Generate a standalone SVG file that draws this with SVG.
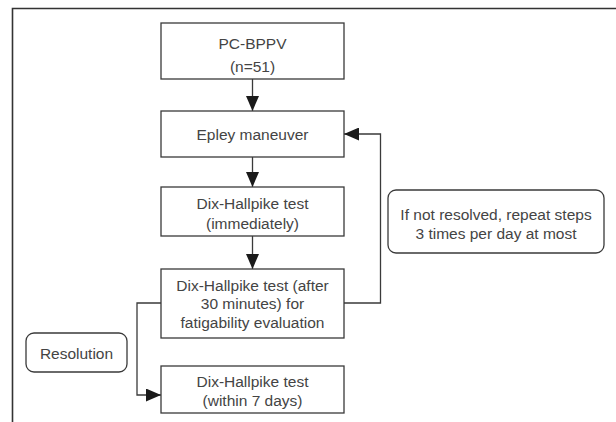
<svg xmlns="http://www.w3.org/2000/svg" width="616" height="422" viewBox="0 0 616 422">
<defs>
<style>
.box{fill:#fff;stroke:#3a3a3a;stroke-width:1.3}
.rbox{fill:#fff;stroke:#3a3a3a;stroke-width:1.3}
.t{font-family:"Liberation Sans",Arial,sans-serif;font-size:15.5px;fill:#444;text-anchor:middle}
.c{fill:none;stroke:#3a3a3a;stroke-width:1.3}
.frame{fill:none;stroke:#333;stroke-width:1.6}
</style>
<marker id="ah" markerUnits="userSpaceOnUse" markerWidth="15" markerHeight="13" viewBox="0 0 15 13" refX="15" refY="6.5" orient="auto">
<path d="M0,0 L15,6.5 L0,13 z" fill="#1a1a1a"/>
</marker>
</defs>
<rect width="616" height="422" fill="#fff"/>
<path class="frame" d="M12.5,422 V8.5 H616"/>
<g id="connectors">
<line class="c" x1="252.5" y1="79" x2="252.5" y2="111" marker-end="url(#ah)"/>
<line class="c" x1="252.5" y1="157" x2="252.5" y2="187" marker-end="url(#ah)"/>
<line class="c" x1="252.5" y1="236" x2="252.5" y2="269" marker-end="url(#ah)"/>
<polyline class="c" points="344,303 380.5,303 380.5,134 344,134" marker-end="url(#ah)"/>
<polyline class="c" points="161,303 137,303 137,395 161,395" marker-end="url(#ah)"/>
</g>
<g id="pc-bppv">
<rect class="box" x="161" y="23" width="183" height="56"/>
<text class="t" x="252.5" y="49">PC-BPPV</text>
<text class="t" x="252.5" y="71.5">(n=51)</text>
</g>
<g id="epley">
<rect class="box" x="161" y="111" width="183" height="46"/>
<text class="t" x="252.5" y="140">Epley maneuver</text>
</g>
<g id="dh-immediately">
<rect class="box" x="161" y="187" width="183" height="49"/>
<text class="t" x="252.5" y="208.5">Dix-Hallpike test</text>
<text class="t" x="252.5" y="229">(immediately)</text>
</g>
<g id="dh-30min">
<rect class="box" x="161" y="269" width="183" height="69"/>
<text class="t" x="252.5" y="290.5">Dix-Hallpike test (after</text>
<text class="t" x="252.5" y="309">30 minutes) for</text>
<text class="t" x="252.5" y="327.5">fatigability evaluation</text>
</g>
<g id="dh-7days">
<rect class="box" x="161" y="366" width="183" height="47"/>
<text class="t" x="252.5" y="387">Dix-Hallpike test</text>
<text class="t" x="252.5" y="406">(within 7 days)</text>
</g>
<g id="resolution">
<rect class="rbox" x="26" y="333" width="101" height="39" rx="8"/>
<text class="t" x="76.5" y="358.5">Resolution</text>
</g>
<g id="repeat-note">
<rect class="rbox" x="388" y="190" width="216" height="63" rx="8"/>
<text class="t" x="496" y="220">If not resolved, repeat steps</text>
<text class="t" x="496" y="239">3 times per day at most</text>
</g>
</svg>
